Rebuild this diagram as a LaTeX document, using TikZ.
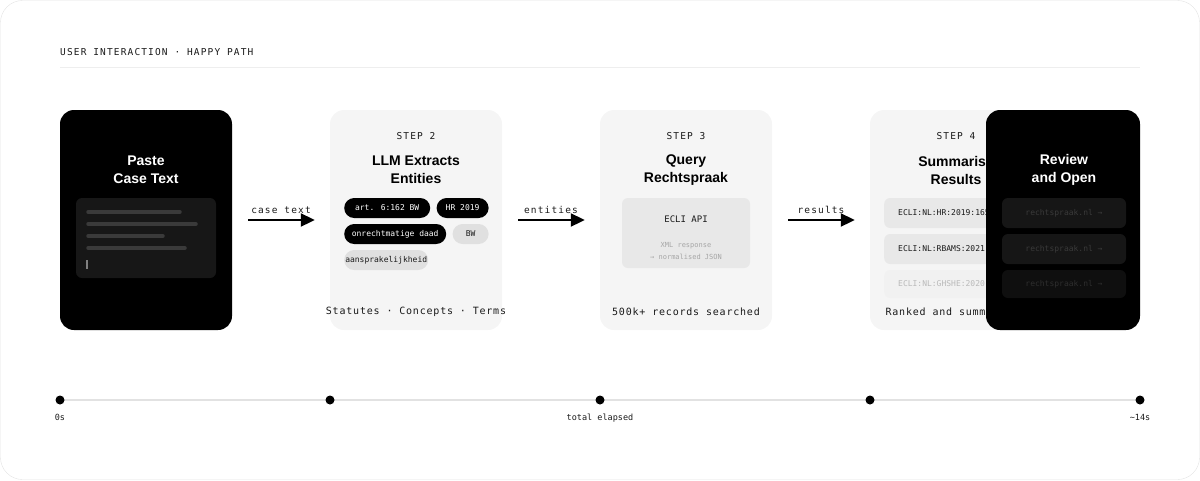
\documentclass[tikz,border=0pt]{standalone}
\usepackage{fontspec}
\setmainfont{Liberation Sans}
\newfontfamily\monofont{DejaVu Sans Mono}
\newfontfamily\monowide[LetterSpace=8]{DejaVu Sans Mono}
\newfontfamily\monotrack[LetterSpace=12]{DejaVu Sans Mono}
\usepackage{tikz}
\usetikzlibrary{arrows.meta,positioning,calc}
\definecolor{ink}{HTML}{1A1A1A}
\definecolor{cardgrey}{HTML}{F5F5F5}
\definecolor{boxgrey}{HTML}{E8E8E8}
\definecolor{pillgrey}{HTML}{E0E0E0}
\definecolor{rulegrey}{HTML}{EEEEEE}
\definecolor{framegrey}{HTML}{E2E2E2}
\definecolor{pastebox}{HTML}{171717}
\definecolor{pastebar}{HTML}{3A3A3A}
\definecolor{linkbox}{HTML}{161616}
\definecolor{linktext}{HTML}{3A3A3A}
\tikzset{
	card/.style={rectangle, rounded corners=14pt, minimum width=172pt, minimum height=220pt, inner sep=0pt},
	darkcard/.style={card, fill=black},
	lightcard/.style={card, fill=cardgrey},
	cardtitle/.style={font=\bfseries\fontsize{14}{18}\selectfont, align=center},
	steplabel/.style={font=\monotrack\fontsize{9.5}{11}\selectfont, text=ink},
	caption/.style={font=\monowide\fontsize{10}{12}\selectfont, text=ink},
	pill/.style={rounded corners=10pt, minimum height=20pt, inner sep=0pt, font=\monofont\fontsize{8}{10}\selectfont},
	pilldark/.style={pill, fill=black, text=white},
	pilllight/.style={pill, fill=pillgrey, text=ink},
	resultbox/.style={rounded corners=6pt, minimum height=30pt, inner xsep=14pt, inner ysep=0pt, text width=116pt, align=left, fill=boxgrey, text=ink, font=\monofont\fontsize{8}{10}\selectfont},
	linkrow/.style={rounded corners=6pt, minimum height=30pt, minimum width=124pt, inner sep=0pt, fill=linkbox, text=linktext, font=\monofont\fontsize{8}{10}\selectfont},
	flow/.style={line width=2pt, shorten <=16pt, shorten >=15pt, -{Triangle[length=14pt,width=13pt]}},
	flowlabel/.style={font=\monotrack\fontsize{9.5}{11}\selectfont, text=ink},
	tdot/.style={circle, fill=black, minimum size=9pt, inner sep=0pt},
	tlabel/.style={font=\monofont\fontsize{8.5}{10}\selectfont, text=ink},
}
\begin{document}
\begin{tikzpicture}[x=1pt,y=-1pt]
	\useasboundingbox (0,0) rectangle (1200,480);
	\draw[framegrey, rounded corners=22pt] (0.5,0.5) rectangle (1199.5,479.5);
	% header
	\node[steplabel, anchor=west, inner sep=0pt] (header) at (60,52) {USER INTERACTION · HAPPY PATH};
	\draw[rulegrey, line width=1pt] (60,67) -- (1140,67);
	% step 1
	\node[darkcard] (paste) at (146,220) {};
	\node[cardtitle, text=white] (pastetitle) at (146,170) {Paste\\Case Text};
	\node[fill=pastebox, rounded corners=6pt, minimum width=140pt, minimum height=80pt] (pastebox) at (146,238) {};
	\draw[pastebar, line width=3.5pt, line cap=round] (88,212) -- (180,212);
	\draw[pastebar, line width=3.5pt, line cap=round] (88,224) -- (196,224);
	\draw[pastebar, line width=3.5pt, line cap=round] (88,236) -- (163,236);
	\draw[pastebar, line width=3.5pt, line cap=round] (88,248) -- (185,248);
	\draw[gray, line width=1.5pt] (87,260) -- (87,269);
	% step 2
	\node[lightcard] (extract) at (416,220) {};
	\node[steplabel] (step2) at (416,136) {STEP 2};
	\node[cardtitle] (extracttitle) at (416,170) {LLM Extracts\\Entities};
	\node[pilldark, minimum width=86pt, anchor=west] (art) at (344,208) {art. 6:162 BW};
	\node[pilldark, minimum width=52pt, right=6pt of art] (hr) {HR 2019};
	\node[pilldark, minimum width=102pt, anchor=west] (onr) at (344,234) {onrechtmatige daad};
	\node[pilllight, minimum width=36pt, right=6pt of onr] (bw) {BW};
	\node[pilllight, minimum width=84pt, anchor=west] (aansp) at (344,260) {aansprakelijkheid};
	\node[caption] (extractcap) at (416,312) {Statutes · Concepts · Terms};
	% step 3
	\node[lightcard] (query) at (686,220) {};
	\node[steplabel] (step3) at (686,136) {STEP 3};
	\node[cardtitle] (querytitle) at (686,170) {Query\\Rechtspraak};
	\node[fill=boxgrey, rounded corners=6pt, minimum width=128pt, minimum height=70pt] (api) at (686,233) {};
	\node[font=\monofont\fontsize{9}{10}\selectfont, text=ink] (apiname) at (686,219) {ECLI API};
	\node[font=\monofont\fontsize{7}{12}\selectfont, text=gray!70, align=center] (apinote) at (686,251) {XML response\\→ normalised JSON};
	\node[caption] (querycap) at (686,312) {500k+ records searched};
	% step 4
	\node[lightcard] (summary) at (956,220) {};
	\node[steplabel] (step4) at (956,136) {STEP 4};
	\node[cardtitle] (summarytitle) at (956,170) {Summarise\\Results};
	\node[resultbox, anchor=west] (res1) at (884,213) {ECLI:NL:HR:2019:1650};
	\node[resultbox, anchor=west] (res2) at (884,249) {ECLI:NL:RBAMS:2021:4521};
	\node[resultbox, anchor=west, fill=boxgrey!60, text=gray!55, minimum height=28pt] (res3) at (884,284) {ECLI:NL:GHSHE:2020:889};
	\node[caption] (summarycap) at (956,312) {Ranked and summarised};
	% step 5
	\node[darkcard, minimum width=154pt] (review) at (1063,220) {};
	\node[cardtitle, text=white] (reviewtitle) at (1064,170) {Review\\and Open};
	\node[linkrow] (link1) at (1064,213) {rechtspraak.nl →};
	\node[linkrow] (link2) at (1064,249) {rechtspraak.nl →};
	\node[linkrow, minimum height=28pt, fill=linkbox!70!black, text=linktext!80!black] (link3) at (1064,284) {rechtspraak.nl →};
	% connectors
	\draw[flow] (paste) -- (extract) node[flowlabel, midway, above=2pt] {case text};
	\draw[flow] (extract) -- (query) node[flowlabel, midway, above=2pt] {entities};
	\draw[flow] (query) -- (summary) node[flowlabel, midway, above=2pt] {results};
	% timeline
	\coordinate (t0) at (60,400);
	\coordinate (t1) at (330,400);
	\coordinate (t2) at (600,400);
	\coordinate (t3) at (870,400);
	\coordinate (t4) at (1140,400);
	\draw[framegrey, line width=1.5pt] (t0) -- (t4);
	\node[tdot] (d0) at (t0) {};
	\node[tdot] (d1) at (t1) {};
	\node[tdot] (d2) at (t2) {};
	\node[tdot] (d3) at (t3) {};
	\node[tdot] (d4) at (t4) {};
	\node[tlabel, below=6pt of d0] (start) {0s};
	\node[tlabel, below=6pt of d2] (elapsed) {total elapsed};
	\node[tlabel, below=6pt of d4] (finish) {\textasciitilde 14s};
\end{tikzpicture}
\end{document}
